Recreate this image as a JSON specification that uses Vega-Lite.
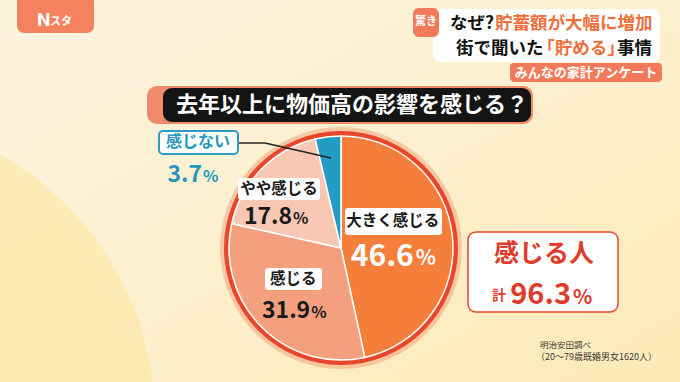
{
  "$schema": "https://vega.github.io/schema/vega-lite/v6.json",
  "width": 680,
  "height": 382,
  "autosize": "none",
  "padding": 0,
  "background": "#FDF0D0",
  "config": {"view": {"stroke": null}, "font": "Noto Sans CJK JP"},
  "datasets": {
    "one": [{}],
    "survey": [
      {"category": "大きく感じる", "pct": 46.6},
      {"category": "感じる", "pct": 31.9},
      {"category": "やや感じる", "pct": 17.8},
      {"category": "感じない", "pct": 3.7}
    ]
  },
  "data": {"name": "survey"},
  "layer": [
    {"data": {"name": "one"}, "mark": {"type": "rect", "x": 0, "x2": 680, "y": 0, "y2": 382, "color": {"gradient": "linear", "x1": 0, "y1": 0, "x2": 1, "y2": 1, "stops": [{"offset": 0, "color": "#FDF4E0"}, {"offset": 0.5, "color": "#FDF0CF"}, {"offset": 1, "color": "#FCEAB6"}]}}, "encoding": {}},
    {"data": {"name": "one"}, "mark": {"type": "arc", "x": -150, "y": 420, "radius": 305, "theta": 0, "theta2": 6.2832, "color": "#FCE8AA", "opacity": 0.75}, "encoding": {}},

    {"data": {"name": "one"}, "mark": {"type": "rect", "x": 17, "x2": 94, "y": -10, "y2": 33, "cornerRadius": 7, "color": "#F5825F"}, "encoding": {}},
    {"data": {"name": "one"}, "mark": {"type": "text", "x": 37, "y": 20, "text": "N", "align": "left", "baseline": "middle", "fontSize": 19, "fontWeight": "bold", "color": "#FFFFFF", "font": "Roboto"}, "encoding": {}},
    {"data": {"name": "one"}, "mark": {"type": "text", "x": 50, "y": 22, "text": "スタ", "align": "left", "baseline": "middle", "fontSize": 11, "fontWeight": "bold", "color": "#FFFFFF"}, "encoding": {}},

    {"data": {"name": "one"}, "mark": {"type": "rect", "x": 433, "x2": 660, "y": 9, "y2": 62, "cornerRadius": 8, "color": "#FFFFFF"}, "encoding": {}},
    {"data": {"name": "one"}, "mark": {"type": "rect", "x": 413, "x2": 439, "y": 8, "y2": 37, "cornerRadius": 6, "color": "#F27A5C"}, "encoding": {}},
    {"data": {"name": "one"}, "mark": {"type": "text", "x": 426, "y": 22, "text": "驚き", "align": "center", "baseline": "middle", "fontSize": 11, "fontWeight": "bold", "color": "#FFFFFF"}, "encoding": {}},
    {"data": {"name": "one"}, "mark": {"type": "text", "x": 450, "y": 24, "text": "なぜ?", "align": "left", "baseline": "middle", "fontSize": 17.5, "fontWeight": "bold", "color": "#111111"}, "encoding": {}},
    {"data": {"name": "one"}, "mark": {"type": "text", "x": 495, "y": 24, "text": "貯蓄額が大幅に増加", "align": "left", "baseline": "middle", "fontSize": 17.5, "fontWeight": "bold", "color": "#EE6F3D"}, "encoding": {}},
    {"data": {"name": "one"}, "mark": {"type": "text", "x": 456, "y": 49, "text": "街で聞いた", "align": "left", "baseline": "middle", "fontSize": 17.5, "fontWeight": "bold", "color": "#111111"}, "encoding": {}},
    {"data": {"name": "one"}, "mark": {"type": "text", "x": 581, "y": 49, "text": "｢貯める｣", "align": "center", "baseline": "middle", "fontSize": 17.5, "fontWeight": "bold", "color": "#EE6F3D"}, "encoding": {}},
    {"data": {"name": "one"}, "mark": {"type": "text", "x": 652, "y": 49, "text": "事情", "align": "right", "baseline": "middle", "fontSize": 17.5, "fontWeight": "bold", "color": "#111111"}, "encoding": {}},
    {"data": {"name": "one"}, "mark": {"type": "rect", "x": 510, "x2": 662, "y": 63, "y2": 82, "cornerRadius": 4, "color": "#F27A5A"}, "encoding": {}},
    {"data": {"name": "one"}, "mark": {"type": "text", "x": 586, "y": 73, "text": "みんなの家計アンケート", "align": "center", "baseline": "middle", "fontSize": 13, "fontWeight": "bold", "color": "#FFFFFF"}, "encoding": {}},

    {"data": {"name": "one"}, "mark": {"type": "rect", "x": 147, "x2": 533, "y": 86, "y2": 124, "cornerRadius": 10, "color": "#F08C6C"}, "encoding": {}},
    {"data": {"name": "one"}, "mark": {"type": "rect", "x": 163, "x2": 531, "y": 88, "y2": 122, "cornerRadius": 9, "color": "#141414"}, "encoding": {}},
    {"data": {"name": "one"}, "mark": {"type": "text", "x": 176, "y": 105, "text": "去年以上に物価高の影響を感じる？", "align": "left", "baseline": "middle", "fontSize": 22, "fontWeight": "bold", "color": "#FFFFFF"}, "encoding": {}},

    {"data": {"name": "one"}, "mark": {"type": "arc", "x": 341, "y": 248, "radius": 121, "theta": 0, "theta2": 6.2832, "color": "#F06A40", "opacity": 0.3}, "encoding": {}},
    {"data": {"name": "one"}, "mark": {"type": "arc", "x": 341, "y": 248, "radius": 117, "theta": 0, "theta2": 6.2832, "color": "#E8472C"}, "encoding": {}},
    {
      "mark": {"type": "arc", "radius": 112, "stroke": "#FFFFFF", "strokeWidth": 1.5},
      "encoding": {
        "theta": {"field": "pct", "type": "quantitative", "stack": true},
        "order": {"field": "pct", "type": "quantitative", "sort": "descending"},
        "color": {"field": "category", "type": "nominal", "legend": null, "scale": {"domain": ["大きく感じる", "感じる", "やや感じる", "感じない"], "range": ["#F57E3A", "#F4A07F", "#F8C8B5", "#239CC3"]}},
        "x": {"value": 341},
        "y": {"value": 248}
      }
    },

    {"data": {"name": "one"}, "mark": {"type": "rule", "color": "#222222", "strokeWidth": 1.5}, "encoding": {"x": {"value": 238}, "y": {"value": 143}, "x2": {"value": 265}, "y2": {"value": 143}}},
    {"data": {"name": "one"}, "mark": {"type": "rule", "color": "#222222", "strokeWidth": 1.5}, "encoding": {"x": {"value": 265}, "y": {"value": 143}, "x2": {"value": 331}, "y2": {"value": 158}}},
    {"data": {"name": "one"}, "mark": {"type": "rect", "x": 159, "x2": 238, "y": 131, "y2": 154, "cornerRadius": 4, "color": "#FFFFFF", "stroke": "#2C9CC0", "strokeWidth": 2}, "encoding": {}},
    {"data": {"name": "one"}, "mark": {"type": "rect", "x": 238, "x2": 320, "y": 178, "y2": 200, "cornerRadius": 3, "color": "#FFFFFF"}, "encoding": {}},
    {"data": {"name": "one"}, "mark": {"type": "rect", "x": 265, "x2": 322, "y": 268, "y2": 290, "cornerRadius": 3, "color": "#FFFFFF"}, "encoding": {}},
    {"data": {"name": "one"}, "mark": {"type": "rect", "x": 345, "x2": 442, "y": 208, "y2": 235, "cornerRadius": 3, "color": "#FFFFFF"}, "encoding": {}},

    {"mark": {"type": "text", "radius": 55, "dx": -3, "dy": -21, "fontSize": 15.5, "fontWeight": "bold", "color": "#1A1A1A", "align": "center", "baseline": "middle"},
     "encoding": {"theta": {"field": "pct", "type": "quantitative", "stack": true}, "order": {"field": "pct", "type": "quantitative", "sort": "descending"}, "x": {"value": 341}, "y": {"value": 248},
       "text": {"condition": {"test": "datum.category === '大きく感じる'", "field": "category", "type": "nominal"}, "value": ""}}},
    {"mark": {"type": "text", "radius": 55, "dx": 18, "dy": 15, "fontSize": 30, "fontWeight": "bold", "color": "#FFFFFF", "align": "right", "baseline": "middle"},
     "encoding": {"theta": {"field": "pct", "type": "quantitative", "stack": true}, "order": {"field": "pct", "type": "quantitative", "sort": "descending"}, "x": {"value": 341}, "y": {"value": 248},
       "text": {"condition": {"test": "datum.category === '大きく感じる'", "field": "pct", "type": "quantitative", "format": ".1f"}, "value": ""}}},
    {"mark": {"type": "text", "radius": 55, "dx": 20, "dy": 17, "fontSize": 21, "fontWeight": "bold", "color": "#FFFFFF", "align": "left", "baseline": "middle"},
     "encoding": {"theta": {"field": "pct", "type": "quantitative", "stack": true}, "order": {"field": "pct", "type": "quantitative", "sort": "descending"}, "x": {"value": 341}, "y": {"value": 248},
       "text": {"condition": {"test": "datum.category === '大きく感じる'", "value": "%"}, "value": ""}}},

    {"mark": {"type": "text", "radius": 66, "dx": -1, "dy": -15.5, "fontSize": 15.5, "fontWeight": "bold", "color": "#1A1A1A", "align": "center", "baseline": "middle"},
     "encoding": {"theta": {"field": "pct", "type": "quantitative", "stack": true}, "order": {"field": "pct", "type": "quantitative", "sort": "descending"}, "x": {"value": 341}, "y": {"value": 248},
       "text": {"condition": {"test": "datum.category === '感じる'", "field": "category", "type": "nominal"}, "value": ""}}},
    {"mark": {"type": "text", "radius": 66, "dx": 16, "dy": 16, "fontSize": 23, "fontWeight": "bold", "color": "#1A1A1A", "align": "right", "baseline": "middle"},
     "encoding": {"theta": {"field": "pct", "type": "quantitative", "stack": true}, "order": {"field": "pct", "type": "quantitative", "sort": "descending"}, "x": {"value": 341}, "y": {"value": 248},
       "text": {"condition": {"test": "datum.category === '感じる'", "field": "pct", "type": "quantitative", "format": ".1f"}, "value": ""}}},
    {"mark": {"type": "text", "radius": 66, "dx": 17, "dy": 18, "fontSize": 16, "fontWeight": "bold", "color": "#1A1A1A", "align": "left", "baseline": "middle"},
     "encoding": {"theta": {"field": "pct", "type": "quantitative", "stack": true}, "order": {"field": "pct", "type": "quantitative", "sort": "descending"}, "x": {"value": 341}, "y": {"value": 248},
       "text": {"condition": {"test": "datum.category === '感じる'", "value": "%"}, "value": ""}}},

    {"mark": {"type": "text", "radius": 80, "dx": -5, "dy": -3, "fontSize": 15.5, "fontWeight": "bold", "color": "#1A1A1A", "align": "center", "baseline": "middle"},
     "encoding": {"theta": {"field": "pct", "type": "quantitative", "stack": true}, "order": {"field": "pct", "type": "quantitative", "sort": "descending"}, "x": {"value": 341}, "y": {"value": 248},
       "text": {"condition": {"test": "datum.category === 'やや感じる'", "field": "category", "type": "nominal"}, "value": ""}}},
    {"mark": {"type": "text", "radius": 80, "dx": 8, "dy": 25, "fontSize": 23, "fontWeight": "bold", "color": "#1A1A1A", "align": "right", "baseline": "middle"},
     "encoding": {"theta": {"field": "pct", "type": "quantitative", "stack": true}, "order": {"field": "pct", "type": "quantitative", "sort": "descending"}, "x": {"value": 341}, "y": {"value": 248},
       "text": {"condition": {"test": "datum.category === 'やや感じる'", "field": "pct", "type": "quantitative", "format": ".1f"}, "value": ""}}},
    {"mark": {"type": "text", "radius": 80, "dx": 9, "dy": 27, "fontSize": 16, "fontWeight": "bold", "color": "#1A1A1A", "align": "left", "baseline": "middle"},
     "encoding": {"theta": {"field": "pct", "type": "quantitative", "stack": true}, "order": {"field": "pct", "type": "quantitative", "sort": "descending"}, "x": {"value": 341}, "y": {"value": 248},
       "text": {"condition": {"test": "datum.category === 'やや感じる'", "value": "%"}, "value": ""}}},

    {"mark": {"type": "text", "radius": 112, "dx": -130, "dy": 5, "fontSize": 16, "fontWeight": "bold", "color": "#2597BD", "align": "center", "baseline": "middle"},
     "encoding": {"theta": {"field": "pct", "type": "quantitative", "stack": true}, "order": {"field": "pct", "type": "quantitative", "sort": "descending"}, "x": {"value": 341}, "y": {"value": 248},
       "text": {"condition": {"test": "datum.category === '感じない'", "field": "category", "type": "nominal"}, "value": ""}}},
    {"mark": {"type": "text", "radius": 112, "dx": -126, "dy": 38, "fontSize": 23, "fontWeight": "bold", "color": "#2597BD", "align": "right", "baseline": "middle"},
     "encoding": {"theta": {"field": "pct", "type": "quantitative", "stack": true}, "order": {"field": "pct", "type": "quantitative", "sort": "descending"}, "x": {"value": 341}, "y": {"value": 248},
       "text": {"condition": {"test": "datum.category === '感じない'", "field": "pct", "type": "quantitative", "format": ".1f"}, "value": ""}}},
    {"mark": {"type": "text", "radius": 112, "dx": -125, "dy": 40, "fontSize": 16, "fontWeight": "bold", "color": "#2597BD", "align": "left", "baseline": "middle"},
     "encoding": {"theta": {"field": "pct", "type": "quantitative", "stack": true}, "order": {"field": "pct", "type": "quantitative", "sort": "descending"}, "x": {"value": 341}, "y": {"value": 248},
       "text": {"condition": {"test": "datum.category === '感じない'", "value": "%"}, "value": ""}}},

    {"data": {"name": "one"}, "mark": {"type": "rect", "x": 468, "x2": 618, "y": 232, "y2": 312, "cornerRadius": 8, "color": "#FFFFFF", "stroke": "#E5482E", "strokeWidth": 1.5}, "encoding": {}},
    {"data": {"name": "one"}, "mark": {"type": "text", "x": 544, "y": 254, "text": "感じる人", "align": "center", "baseline": "middle", "fontSize": 25, "fontWeight": "bold", "color": "#E03C2B"}, "encoding": {}},
    {"data": {"name": "one"}, "mark": {"type": "text", "x": 499, "y": 296, "text": "計", "align": "center", "baseline": "middle", "fontSize": 14, "fontWeight": "bold", "color": "#E03C2B"}, "encoding": {}},
    {"transform": [{"filter": "datum.category !== '感じない'"}, {"aggregate": [{"op": "sum", "field": "pct", "as": "total"}]}],
     "mark": {"type": "text", "x": 571, "y": 295, "align": "right", "baseline": "middle", "fontSize": 29, "fontWeight": "bold", "color": "#E03C2B"},
     "encoding": {"text": {"field": "total", "type": "quantitative", "format": ".1f"}}},
    {"data": {"name": "one"}, "mark": {"type": "text", "x": 573, "y": 298, "text": "%", "align": "left", "baseline": "middle", "fontSize": 20, "fontWeight": "bold", "color": "#E03C2B"}, "encoding": {}},

    {"data": {"name": "one"}, "mark": {"type": "text", "x": 540, "y": 345, "text": "明治安田調べ", "align": "left", "baseline": "middle", "fontSize": 8.5, "color": "#3A3A3A"}, "encoding": {}},
    {"data": {"name": "one"}, "mark": {"type": "text", "x": 536, "y": 357, "text": "（20〜79歳既婚男女1620人）", "align": "left", "baseline": "middle", "fontSize": 9, "color": "#3A3A3A"}, "encoding": {}}
  ]
}
